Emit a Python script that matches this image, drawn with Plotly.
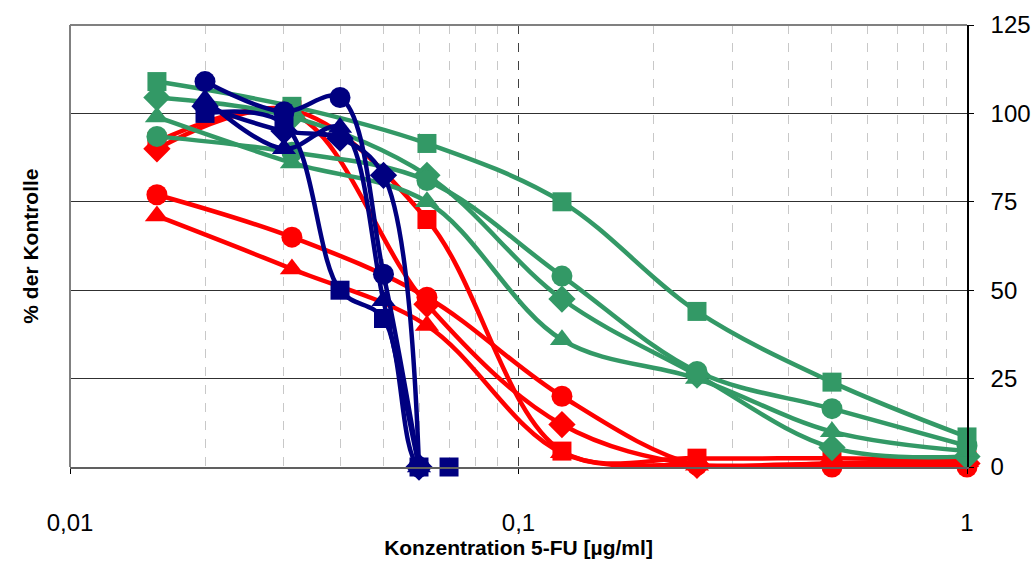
import plotly.graph_objects as go

# concentrations (µg/ml)
x_main = [0.015625, 0.03125, 0.0625, 0.125, 0.25, 0.5, 1]
x_navy = [0.02, 0.03, 0.04, 0.05, 0.06, 0.07]

# red series (% der Kontrolle)
red_square = [92, 101, 70, 4.5, 2.5, 2.5, 2]
red_diamond = [90, 100, 46, 12, 0.5, 1, 1]
red_circle = [77, 65, 48, 20, 0.5, 0, 0]
red_triangle = [71, 56, 40, 4, 0.5, 1, 1.5]

# green series
green_square = [109, 102, 91.5, 75, 44, 24, 8.5]
green_diamond = [104.5, 99, 82.5, 47.5, 26, 5.5, 3]
green_circle = [93.5, 89, 81, 54, 27, 16.5, 6]
green_triangle = [99, 86, 75, 36, 25, 10, 4.5]

# navy series
navy_circle = [109, 100.5, 104.5, 54.5, 0]
navy_triangle = [104, 90, 96, 47, 0]
navy_diamond = [102, 95, 93, 82.5, 0]
navy_square = [100, 97, 50, 42, 0, 0]

x_ticks = [0.01, 0.1, 1]
x_ticktext = ["0,01", "0,1", "1"]
x_minor = [0.02, 0.03, 0.04, 0.05, 0.06, 0.07, 0.08, 0.09,
           0.2, 0.3, 0.4, 0.5, 0.6, 0.7, 0.8, 0.9]
y_ticks = [0, 25, 50, 75, 100, 125]

RED = "#FF0000"
GREEN = "#339966"
NAVY = "#000080"

sizes = {"square": 19, "circle": 21, "triangle-up": 21, "diamond": 21}

fig = go.Figure()

def add(x, y, color, symbol):
    fig.add_trace(go.Scatter(
        x=x, y=y, mode="lines+markers",
        line=dict(color=color, width=4.5, shape="spline", smoothing=1),
        marker=dict(symbol=symbol, size=sizes[symbol], color=color,
                    line=dict(width=0)),
        showlegend=False, cliponaxis=False,
    ))

add(x_main, red_square, RED, "square")
add(x_main, red_diamond, RED, "diamond")
add(x_main, red_triangle, RED, "triangle-up")
add(x_main, red_circle, RED, "circle")

add(x_main, green_diamond, GREEN, "diamond")
add(x_main, green_triangle, GREEN, "triangle-up")
add(x_main, green_circle, GREEN, "circle")
add(x_main, green_square, GREEN, "square")

add(x_navy[:5], navy_diamond, NAVY, "diamond")
add(x_navy[:5], navy_triangle, NAVY, "triangle-up")
add(x_navy, navy_square, NAVY, "square")
add(x_navy[:5], navy_circle, NAVY, "circle")

FONT = "Liberation Sans, Arial, sans-serif"

fig.update_layout(
    width=1034, height=561,
    margin=dict(l=70, r=67, t=25, b=94),
    paper_bgcolor="white", plot_bgcolor="white",
    font=dict(family=FONT, color="black", size=24),
    showlegend=False,
    xaxis=dict(
        type="log", range=[-2, 0], automargin=False,
        tickmode="array", tickvals=x_ticks, ticktext=x_ticktext,
        tickfont=dict(size=24),
        ticks="outside", ticklen=5, tickcolor="black",
        ticklabelstandoff=28,
        showgrid=True, gridcolor="#404040", griddash="dash", gridwidth=1,
        minor=dict(tickvals=x_minor, showgrid=True, gridcolor="#c8c8c8",
                   griddash="dash", gridwidth=1, ticks=""),
        showline=True, linecolor="#606060", linewidth=2, mirror=False,
        zeroline=False,
        title=dict(text="<b>Konzentration 5-FU [µg/ml]</b>",
                   font=dict(size=21), standoff=6),
    ),
    yaxis=dict(
        side="right", range=[0, 125], automargin=False,
        tickmode="array", tickvals=y_ticks,
        tickfont=dict(size=24),
        ticks="outside", ticklen=5, tickcolor="black",
        ticklabelstandoff=12,
        showgrid=True, gridcolor="#303030", gridwidth=1,
        showline=True, linecolor="black", linewidth=1.5,
        zeroline=False,
    ),
    shapes=[
        dict(type="line", xref="paper", yref="paper", x0=0, x1=0, y0=0, y1=1,
             line=dict(color="#808080", width=2), layer="above"),
        dict(type="line", xref="paper", yref="paper", x0=0, x1=1, y0=1, y1=1,
             line=dict(color="#808080", width=2), layer="above"),
    ],
    annotations=[
        dict(text="<b>% der Kontrolle</b>", xref="paper", yref="paper",
             x=-0.045, y=0.5, textangle=-90, showarrow=False,
             font=dict(size=21), xanchor="center", yanchor="middle"),
    ],
)

fig.write_html("out.html")
